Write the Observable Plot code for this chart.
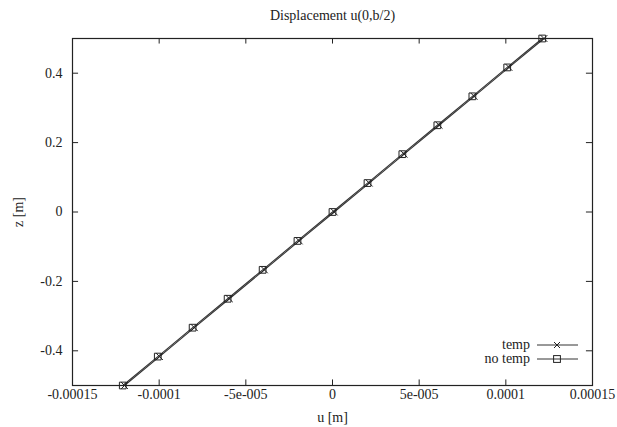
<!DOCTYPE html>
<html>
<head>
<meta charset="utf-8">
<script src="https://cdn.jsdelivr.net/npm/d3@7"></script>
<script src="https://cdn.jsdelivr.net/npm/@observablehq/plot@0.6"></script>
<style>
  html, body { margin: 0; padding: 0; background: #fff; }
  #chart { width: 617px; height: 427px; }
</style>
</head>
<body>
<div id="chart"></div>
<script>
const title = "Displacement u(0,b/2)";
const xLabel = "u [m]";
const yLabel = "z [m]";
const seriesNames = ["temp", "no temp"];

const zValues = [-0.5, -0.41667, -0.33333, -0.25, -0.16667, -0.08333, 0, 0.08333, 0.16667, 0.25, 0.33333, 0.41667, 0.5];
const uTemp   = [-12.0e-5, -9.98e-5, -7.97e-5, -5.95e-5, -3.93e-5, -1.92e-5, 0.10e-5, 2.12e-5, 4.13e-5, 6.15e-5, 8.17e-5, 10.18e-5, 12.2e-5];
const uNoTemp = [-12.1e-5, -10.08e-5, -8.07e-5, -6.05e-5, -4.03e-5, -2.02e-5, 0, 2.02e-5, 4.03e-5, 6.05e-5, 8.07e-5, 10.08e-5, 12.1e-5];

const xTicks = [-0.00015, -0.0001, -0.00005, 0, 0.00005, 0.0001, 0.00015];
const xTickLabels = ["-0.00015", "-0.0001", "-5e-005", "0", "5e-005", "0.0001", "0.00015"];
const yTicks = [-0.4, -0.2, 0, 0.2, 0.4];
const yTickLabels = ["-0.4", "-0.2", "0", "0.2", "0.4"];

const tempData = zValues.map((z, i) => ({z, u: uTemp[i]}));
const noTempData = zValues.map((z, i) => ({z, u: uNoTemp[i]}));

const ink = "#222";
const lineInk = "#333";
const serif = '"Liberation Serif", serif';
const fs = 14;
const xDom = [-0.00015, 0.00015];
const yDom = [-0.5, 0.5];
const tickLenY = 0.016;      // in z units (~5.5px)
const tickLenX = 0.0000035;  // in u units (~6px)

const plot = Plot.plot({
  width: 617,
  height: 427,
  marginLeft: 72,
  marginRight: 25,
  marginTop: 38,
  marginBottom: 42,
  style: {fontFamily: serif, fontSize: fs + "px", color: ink, background: "#fff"},
  x: {domain: xDom},
  y: {domain: yDom},
  marks: [
    Plot.ruleX(xTicks, {x: d => d, y1: yDom[0], y2: yDom[0] + tickLenY, stroke: ink, strokeWidth: 1}),
    Plot.ruleX(xTicks, {x: d => d, y1: yDom[1], y2: yDom[1] - tickLenY, stroke: ink, strokeWidth: 1}),
    Plot.ruleY(yTicks, {y: d => d, x1: xDom[0], x2: xDom[0] + tickLenX, stroke: ink, strokeWidth: 1}),
    Plot.ruleY(yTicks, {y: d => d, x1: xDom[1], x2: xDom[1] - tickLenX, stroke: ink, strokeWidth: 1}),
    Plot.axisX(xTicks, {tickSize: 0, tickPadding: 4, tickFormat: (d, i) => xTickLabels[i], fontSize: fs, fill: ink, label: null}),
    Plot.axisY(yTicks, {tickSize: 0, tickPadding: 10, tickFormat: (d, i) => yTickLabels[i], fontSize: fs, fill: ink, label: null}),
    Plot.line(noTempData, {x: "u", y: "z", stroke: lineInk, strokeWidth: 1.1}),
    Plot.line(tempData, {x: "u", y: "z", stroke: lineInk, strokeWidth: 1.1}),
    Plot.dot(tempData, {x: "u", y: "z", symbol: "times", r: 3.2, stroke: ink, strokeWidth: 1}),
    Plot.dot(noTempData, {x: "u", y: "z", symbol: "square", r: 3.8, stroke: ink, fill: "none", strokeWidth: 1}),
    Plot.frame({stroke: ink, strokeWidth: 1.2}),
    Plot.text([title], {frameAnchor: "top", lineAnchor: "middle", dy: -23, fontSize: fs, fill: ink}),
    Plot.text([xLabel], {frameAnchor: "bottom", lineAnchor: "middle", dy: 32, fontSize: fs, fill: ink}),
    Plot.text([yLabel], {frameAnchor: "left", textAnchor: "middle", lineAnchor: "middle", dx: -54, rotate: -90, fontSize: fs, fill: ink})
  ]
});

document.getElementById("chart").appendChild(plot);

// Legend (inside bottom-right of the frame)
const svg = d3.select(plot);
const lg = svg.append("g").attr("font-size", fs).attr("fill", ink);
const rows = [{name: seriesNames[0], y: 345, sym: "times"}, {name: seriesNames[1], y: 359, sym: "square"}];
rows.forEach(r => {
  lg.append("text").attr("x", 530).attr("y", r.y).attr("dy", "0.32em").attr("text-anchor", "end").text(r.name);
  lg.append("line").attr("x1", 537).attr("x2", 578).attr("y1", r.y).attr("y2", r.y).attr("stroke", lineInk).attr("stroke-width", 1);
  if (r.sym === "times") {
    lg.append("path").attr("d", `M${557 - 3},${r.y - 3}L${557 + 3},${r.y + 3}M${557 - 3},${r.y + 3}L${557 + 3},${r.y - 3}`).attr("stroke", ink).attr("fill", "none");
  } else {
    lg.append("rect").attr("x", 557 - 3.4).attr("y", r.y - 3.4).attr("width", 6.8).attr("height", 6.8).attr("stroke", ink).attr("fill", "none");
  }
});
</script>
</body>
</html>
